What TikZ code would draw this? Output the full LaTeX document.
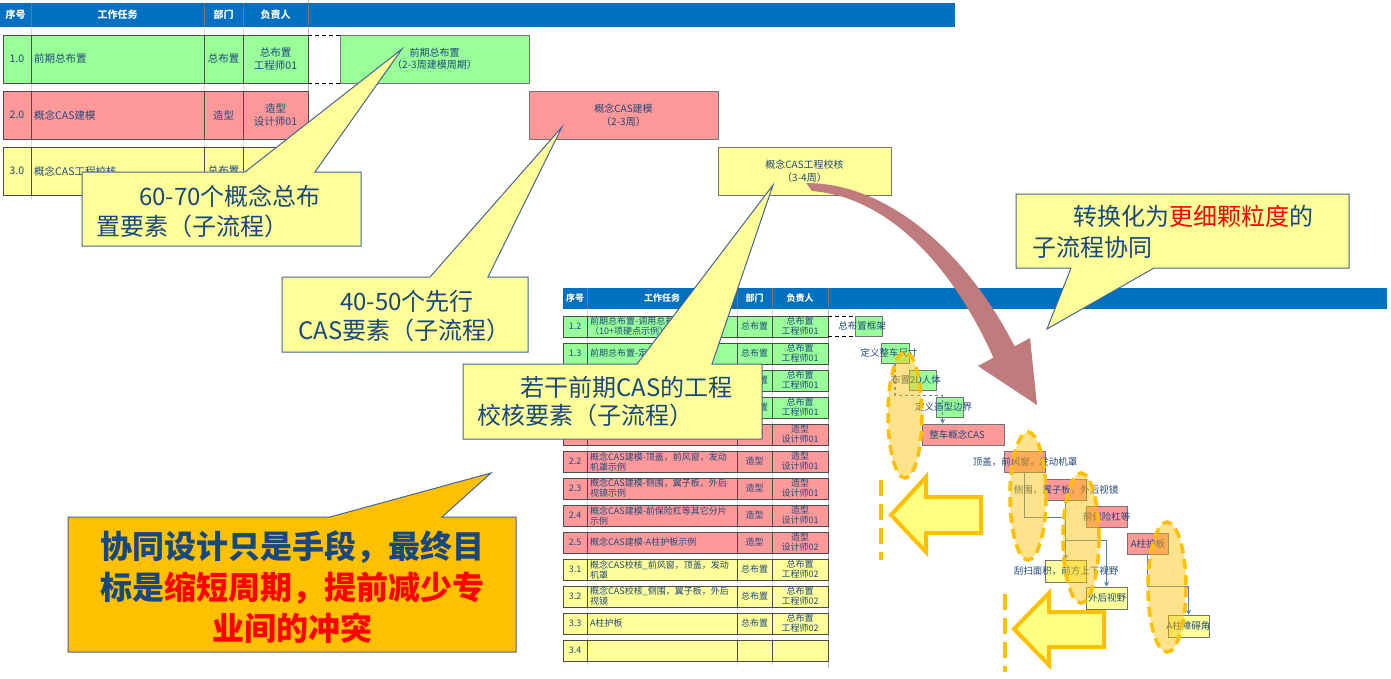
\documentclass[tikz,border=0pt]{standalone}
\usepackage{fontspec}
\setmainfont{Noto Sans CJK SC}
\usetikzlibrary{calc,arrows.meta}
\definecolor{hdrblue}{RGB}{0,112,192}
\definecolor{grn}{RGB}{153,255,153}
\definecolor{rd}{RGB}{255,153,153}
\definecolor{yl}{RGB}{255,255,153}
\definecolor{tabtext}{RGB}{31,73,125}
\definecolor{calltext}{RGB}{24,72,128}
\definecolor{callborder}{RGB}{70,100,150}
\definecolor{orangey}{RGB}{255,192,0}
\definecolor{arrowfill}{RGB}{255,255,128}
\definecolor{brownarrow}{RGB}{192,124,124}
\definecolor{connblue}{RGB}{79,129,189}
\tikzset{
 cellline/.style={draw=black!70, line width=0.7pt},
 gridl/.style={draw=black!15, line width=0.6pt},
 hdrsep/.style={draw=black!55, line width=0.8pt},
 hdrtxt/.style={text=white, font=\bfseries\fontsize{10}{12}\selectfont, inner sep=0},
 bhdrtxt/.style={text=white, font=\bfseries\fontsize{9}{10}\selectfont, inner sep=0},
 ttxt/.style={text=tabtext, font=\fontsize{10.5}{12.5}\selectfont, inner sep=0, align=center},
 btxt/.style={text=tabtext, font=\fontsize{9}{10}\selectfont, inner sep=0, align=center},
 gbar/.style={draw=black!55, line width=0.6pt, inner sep=0},
 glabel/.style={text=tabtext, font=\fontsize{9.5}{10}\selectfont, inner sep=0},
 callout/.style={fill=yl, draw=callborder, line width=1pt, line join=miter},
 calltxt/.style={text=calltext, font=\fontsize{24}{28}\selectfont, inner sep=0, anchor=west},
 hilite/.style={fill=orangey, fill opacity=0.45, draw=orangey, draw opacity=1, line width=3.5pt, dash pattern=on 10pt off 6pt},
 vdash/.style={draw=orangey, line width=4pt, dash pattern=on 16pt off 8pt},
 bigarrow/.style={fill=arrowfill, draw=orangey, line width=4pt, line join=miter},
 conn/.style={draw=connblue, line width=1.2pt, -{Stealth[length=5pt,width=5pt]}},
}
\newcommand\TRow[8]{%
 \fill[#4] (3,#2) rectangle (308,#3);
 \draw[cellline] (3,#2) rectangle (308,#3) (31,#2) -- (31,#3) (204,#2) -- (204,#3) (243,#2) -- (243,#3);
 \node[ttxt] (#1n) at (17,{(#2+#3)/2}) {#5};
 \node[ttxt,anchor=west] (#1t) at (34,{(#2+#3)/2}) {#6};
 \node[ttxt] (#1d) at (223.5,{(#2+#3)/2}) {#7};
 \node[ttxt] (#1p) at (275.5,{(#2+#3)/2}) {#8};
}
\newcommand\BRow[7]{%
 \fill[#2] (563,#1) rectangle (828,{#1+21});
 \draw[cellline] (563,#1) rectangle (828,{#1+21}) (587,#1) -- (587,{#1+21}) (737,#1) -- (737,{#1+21}) (772,#1) -- (772,{#1+21});
 \node[btxt] (#7n) at (575,{#1+10.5}) {#3};
 \node[btxt,anchor=west,align=left] (#7t) at (590,{#1+10.5}) {#4};
 \node[btxt] (#7d) at (754.5,{#1+10.5}) {#5};
 \node[btxt] (#7p) at (800,{#1+10.5}) {#6};
}
\begin{document}
\begin{tikzpicture}[x=1pt,y=-1pt]
\useasboundingbox (0,0) rectangle (1391,678);
\fill[white] (0,0) rectangle (1391,678);

% ---------- top table ----------
\foreach \xx in {31,204,243} \draw[gridl] (\xx,27) -- (\xx,200);
\draw[draw=black!30, line width=0.8pt] (308,0) -- (308,200);
\fill[hdrblue] (0,3) rectangle (955,27);
\foreach \xx in {31,204,243,308} \draw[hdrsep] (\xx,3) -- (\xx,27);
\node[hdrtxt] (h1) at (15.5,15) {序号};
\node[hdrtxt] (h2) at (117.5,15) {工作任务};
\node[hdrtxt] (h3) at (223.5,15) {部门};
\node[hdrtxt] (h4) at (275.5,15) {负责人};

\TRow{ra}{35}{83}{grn}{1.0}{前期总布置}{总布置}{总布置\\工程师01}
\TRow{rb}{91}{139}{rd}{2.0}{概念CAS建模}{造型}{造型\\设计师01}
\TRow{rc}{147}{195}{yl}{3.0}{概念CAS工程校核}{总布置}{总布置\\工程师01}

% top gantt
\draw[black, line width=0.8pt, dash pattern=on 4pt off 3pt] (308,35) -- (340,35) (308,83) -- (340,83);
\draw[gbar, fill=grn] (340,35) rectangle (529,83);
\node[ttxt, font=\fontsize{10}{12.5}\selectfont] (b1) at (434.5,59) {前期总布置\\（2-3周建模周期）};
\draw[gbar, fill=rd] (529,91) rectangle (718,139);
\node[ttxt, font=\fontsize{10}{12.5}\selectfont] (b2) at (623.5,115) {概念CAS建模\\（2-3周）};
\draw[gbar, fill=yl] (718,147) rectangle (891,195);
\node[ttxt, font=\fontsize{10}{12.5}\selectfont] (b3) at (804.5,171) {概念CAS工程校核\\（3-4周）};

% ---------- bottom table ----------
\foreach \xx in {587,737,772} \draw[gridl] (\xx,309) -- (\xx,665);
\draw[draw=black!30, line width=0.8pt] (828,309) -- (828,668);
\fill[hdrblue] (563,288) rectangle (1387,309);
\foreach \xx in {587,737,772,828} \draw[hdrsep] (\xx,288) -- (\xx,309);
\node[bhdrtxt] (k1) at (575,298.5) {序号};
\node[bhdrtxt] (k2) at (662,298.5) {工作任务};
\node[bhdrtxt] (k3) at (754.5,298.5) {部门};
\node[bhdrtxt] (k4) at (800,298.5) {负责人};

\BRow{316}{grn}{1.2}{前期总布置-调用总布置模板\\（10+项硬点示例）}{总布置}{总布置\\工程师01}{s1}
\BRow{343}{grn}{1.3}{前期总布置-定义整车尺寸}{总布置}{总布置\\工程师01}{s2}
\BRow{370}{grn}{}{}{总布置}{总布置\\工程师01}{s3}
\BRow{397}{grn}{}{}{总布置}{总布置\\工程师01}{s4}
\BRow{424}{rd}{}{}{造型}{造型\\设计师01}{s5}
\BRow{451}{rd}{2.2}{概念CAS建模-顶盖，前风窗，发动\\机罩示例}{造型}{造型\\设计师01}{s6}
\BRow{478}{rd}{2.3}{概念CAS建模-侧围，翼子板，外后\\视镜示例}{造型}{造型\\设计师01}{s7}
\BRow{505}{rd}{2.4}{概念CAS建模-前保险杠等其它分片\\示例}{造型}{造型\\设计师01}{s8}
\BRow{532}{rd}{2.5}{概念CAS建模-A柱护板示例}{造型}{造型\\设计师02}{s9}
\BRow{559}{yl}{3.1}{概念CAS校核\_前风窗，顶盖，发动\\机罩}{总布置}{总布置\\工程师02}{s10}
\BRow{586}{yl}{3.2}{概念CAS校核\_侧围，翼子板，外后\\视镜}{总布置}{总布置\\工程师02}{s11}
\BRow{613}{yl}{3.3}{A柱护板}{总布置}{总布置\\工程师02}{s12}
\BRow{640}{yl}{3.4}{}{}{}{s13}

% bottom gantt
\draw[black, line width=0.8pt, dash pattern=on 4pt off 3pt] (828,316) -- (855,316) (828,336) -- (855,336);
\node[gbar, fill=grn, minimum width=27pt, minimum height=20pt] (g1) at (868.5,326) {};
\node[gbar, fill=grn, minimum width=28pt, minimum height=20pt] (g2) at (895,353) {};
\node[gbar, fill=grn, minimum width=27pt, minimum height=20pt] (g3) at (922.5,380) {};
\node[gbar, fill=grn, minimum width=27pt, minimum height=20pt] (g4) at (949.5,407) {};
\node[gbar, fill=rd, minimum width=82pt, minimum height=21pt] (g5) at (963,434.5) {};
\node[gbar, fill=rd, minimum width=41pt, minimum height=21pt] (g6) at (1024.5,461.5) {};
\node[gbar, fill=rd, minimum width=41pt, minimum height=21pt] (g7) at (1065.5,489.5) {};
\node[gbar, fill=rd, minimum width=41pt, minimum height=21pt] (g8) at (1106.5,516.5) {};
\node[gbar, fill=rd, minimum width=41pt, minimum height=21pt] (g9) at (1147.5,543.5) {};
\node[gbar, fill=yl, minimum width=41pt, minimum height=22pt] (y1) at (1065.5,571) {};
\node[gbar, fill=yl, minimum width=41pt, minimum height=22pt] (y2) at (1106.5,598) {};
\node[gbar, fill=yl, minimum width=41pt, minimum height=22pt] (y3) at (1188.5,626) {};

\draw[conn, dashed] (g2.south) -- ++(0,32) -| ($(g5.north west)+(21,0)$);
\draw[conn] (g6.south) -- ++(0,45) -| (y1.north);
\draw[conn] (g7.south) -- ++(0,40) -| (y2.north);
\draw[conn] (g9.south) -- ++(0,32) -| (y3.north);

\node[glabel] (l1) at (862,326) {总布置框架};
\node[glabel] (l2) at (889,353) {定义整车尺寸};
\node[glabel] (l3) at (916,380) {布置2D人体};
\node[glabel] (l4) at (943.5,407) {定义造型边界};
\node[glabel] (l5) at (957,435) {整车概念CAS};
\node[glabel] (l6) at (1025,462) {顶盖，前风窗，发动机罩};
\node[glabel] (l7) at (1066,489.5) {侧围，翼子板，外后视镜};
\node[glabel] (l8) at (1106.5,517) {前保险杠等};
\node[glabel] (l9) at (1148,544) {A柱护板};
\node[glabel] (m1) at (1066,571) {刮扫面积，前方上下视野};
\node[glabel] (m2) at (1107,598) {外后视野};
\node[glabel] (m3) at (1188.5,626) {A柱障碍角};

% highlight ellipses
\path[hilite] (905,415) ellipse [x radius=17, y radius=63];
\path[hilite] (1028,496) ellipse [x radius=18, y radius=64];
\path[hilite] (1081,538) ellipse [x radius=18, y radius=65];
\path[hilite] (1167,587) ellipse [x radius=19, y radius=65];

% dashed vertical lines and left arrows
\draw[vdash] (881,480) -- (881,560);
\draw[vdash] (1005,594) -- (1005,672);
\draw[bigarrow] (891,515) -- (926,477) -- (926,497) -- (981,497) -- (981,533) -- (926,533) -- (926,552) -- cycle;
\draw[bigarrow] (1014,629) -- (1049,593) -- (1049,612) -- (1104,612) -- (1104,647) -- (1049,647) -- (1049,665) -- cycle;

% curved brown arrow
\fill[brownarrow] (806,183) .. controls (890,183) and (968,255) .. (1014.6,346.3)
  -- (1030,338) -- (1037,405) -- (978,366) -- (993.4,357.7)
  .. controls (952,265) and (888,197) .. (812,191) -- cycle;

% ---------- callouts ----------
\draw[callout] (82,172) -- (245,172) -- (402,49) -- (315,172) -- (361,172) -- (361,246) -- (82,246) -- cycle;
\node[calltxt] (c1a) at (139,196) {60-70个概念总布};
\node[calltxt] (c1b) at (96,226) {置要素（子流程）};

\draw[callout] (282,277) -- (430,277) -- (562,127) -- (488,277) -- (528,277) -- (528,352) -- (282,352) -- cycle;
\node[calltxt] (c2a) at (340,301) {40-50个先行};
\node[calltxt] (c2b) at (298,330) {CAS要素（子流程）};

\draw[callout] (463,364) -- (637,364) -- (773,185) -- (712,364) -- (762,364) -- (762,439) -- (463,439) -- cycle;
\node[calltxt] (c3a) at (520,387) {若干前期CAS的工程};
\node[calltxt] (c3b) at (477,415) {校核要素（子流程）};

\draw[callout] (1016,194) -- (1349,194) -- (1349,268) -- (1154,268) -- (1047,329) -- (1071,268) -- (1016,268) -- cycle;
\node[calltxt] (c4a) at (1073,216) {转换化为\textcolor{red}{更细颗粒度}的};
\node[calltxt] (c4b) at (1032,247) {子流程协同};

\draw[callout, fill=orangey] (68,517) -- (330,517) -- (491,473) -- (442,517) -- (516,517) -- (516,652) -- (68,652) -- cycle;
\node[text=calltext, font=\bfseries\fontsize{32}{41}\selectfont, align=center, inner sep=0] (c5) at (292,587)
  {协同设计只是手段，最终目\\标是\textcolor{red}{缩短周期，提前减少专}\\\textcolor{red}{业间的冲突}};
\end{tikzpicture}
\end{document}
